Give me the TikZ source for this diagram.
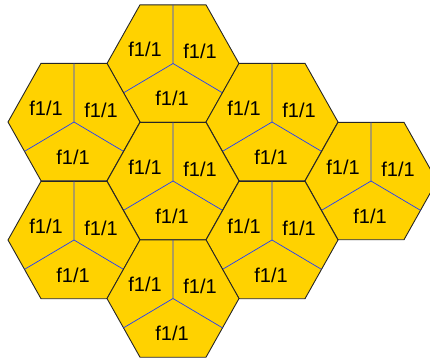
\documentclass[tikz,border=0pt]{standalone}
\usepackage{fontspec}
\setmainfont{Liberation Sans}
\usetikzlibrary{calc}
\definecolor{hexfill}{RGB}{255,210,0}
\definecolor{splitblue}{RGB}{30,60,255}

\begin{document}
\begin{tikzpicture}[
    x=1pt, y=-1pt,
    cell/.style={draw=black!85, fill=hexfill, line width=0.9pt, line join=miter},
    split/.style={draw=splitblue, line width=0.7pt},
    lbl/.style={font=\fontsize{20}{23}\selectfont, inner sep=0pt}
]
\useasboundingbox (0,0) rectangle (430,360);
\clip (0,0) rectangle (430,360);
% ===== CELLS =====
\foreach \cx/\cy [count=\n] in {173/63.5, 74/122, 272/122, 173/181,
    371/181, 74/240, 272/240, 173/298.5} {
  \coordinate (c\n) at (\cx,\cy);
  \draw[cell] ($(c\n)+(-66,0)$) -- ++(33,-58.7) -- ++(66,0) -- ++(33,58.7)
      -- ++(-33,58.7) -- ++(-66,0) -- cycle;
  % sector borders
  \draw[split] ($(c\n)+(0,-58.7)$) -- (c\n) -- ($(c\n)+(-49.5,29.35)$);
  \draw[split] (c\n) -- ($(c\n)+(49.5,29.35)$);
  \node[lbl] (a\n) at ($(c\n)+(-28,-14)$) {f1/1};
  \node[lbl] (b\n) at ($(c\n)+(27,-12)$)  {f1/1};
  \node[lbl] (d\n) at ($(c\n)+(-1,35)$)   {f1/1};
}
\end{tikzpicture}
\end{document}
